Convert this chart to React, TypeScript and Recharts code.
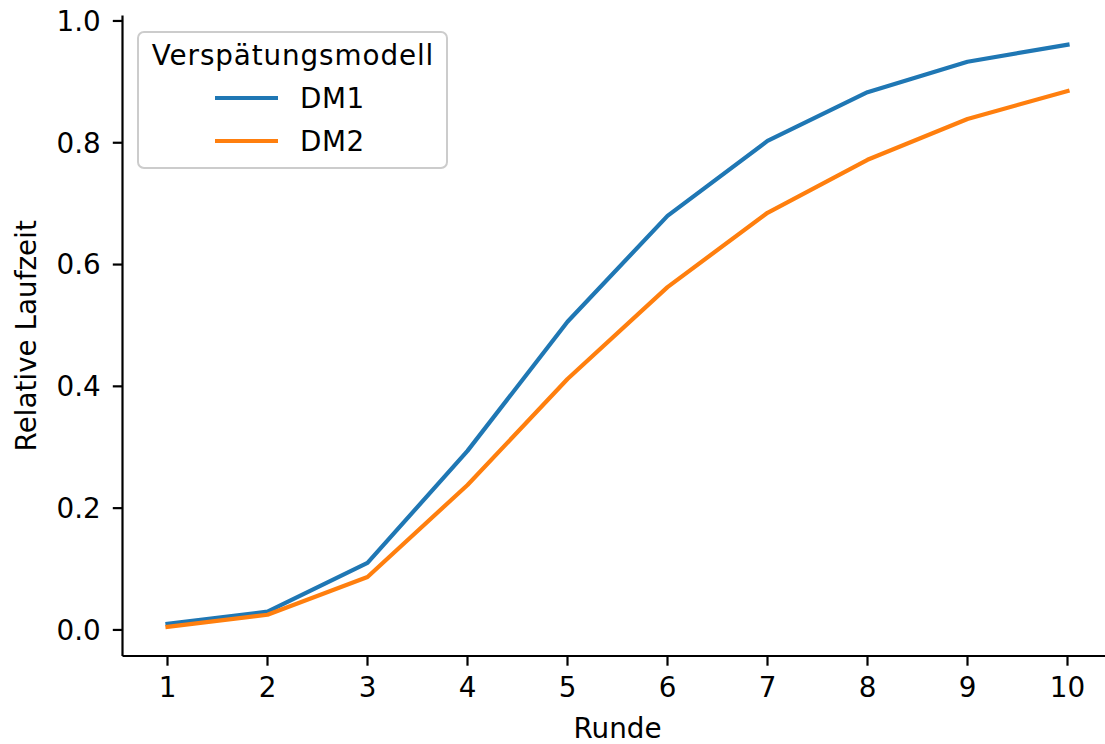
import React from 'react';
import { LineChart, Line, XAxis, YAxis, Legend } from 'recharts';

const rounds = [1, 2, 3, 4, 5, 6, 7, 8, 9, 10];
const dm1 = [0.010, 0.030, 0.110, 0.294, 0.506, 0.680, 0.803, 0.883, 0.933, 0.961];
const dm2 = [0.005, 0.025, 0.087, 0.238, 0.412, 0.563, 0.685, 0.772, 0.839, 0.885];
const xTicks = [1, 2, 3, 4, 5, 6, 7, 8, 9, 10];
const yTicks = [0, 0.2, 0.4, 0.6, 0.8, 1.0];
const seriesNames = ['DM1', 'DM2'];
const seriesColors = ['#1f77b4', '#ff7f0e'];
const legendTitle = 'Verspätungsmodell';
const xLabel = 'Runde';
const yLabel = 'Relative Laufzeit';

const data = rounds.map((r, i) => ({ r, DM1: dm1[i], DM2: dm2[i] }));

const FONT = 'DejaVu Sans';
const FS = 27.8;

const LegendBox = (props: any) => {
  const payload = (props.payload || []) as any[];
  return (
    <svg width={312} height={140} style={{ display: 'block', overflow: 'visible' }}>
      <rect x={1} y={1} width={309} height={136} rx={6} ry={6} fill="#ffffff" fillOpacity={0.8} stroke="#cccccc" strokeWidth={2} />
      <text x={156} y={34} textAnchor="middle" fontFamily={FONT} fontSize={FS} letterSpacing={0.9} fill="#000">{legendTitle}</text>
      {payload.map((p: any, i: number) => (
        <g key={i}>
          <line x1={78} x2={141} y1={67 + i * 43} y2={67 + i * 43} stroke={p.color} strokeWidth={4.2} />
          <text x={163} y={77 + i * 43} fontFamily={FONT} fontSize={FS} letterSpacing={0.5} fill="#000">{p.value}</text>
        </g>
      ))}
    </svg>
  );
};

export default function App() {
  return (
    <div style={{ position: 'absolute', left: 0, top: 0, width: 1105, height: 744, overflow: 'hidden', background: '#fff' }}>
      <LineChart
        width={1140}
        height={744}
        data={data}
        margin={{ top: 15.6, right: 27.5, left: 0, bottom: 0 }}
      >
        <XAxis
          dataKey="r"
          type="number"
          domain={[0.55, 10.45]}
          ticks={xTicks}
          allowDataOverflow
          height={88}
          axisLine={{ stroke: '#000', strokeWidth: 2.2 }}
          tickLine={{ stroke: '#000', strokeWidth: 2.2 }}
          tickSize={9.7}
          tickMargin={12}
          tick={{ fill: '#000', fontSize: FS, fontFamily: FONT }}
          interval={0}
          label={(p: any) => {
            const vb = p.viewBox || {};
            return (
              <text x={vb.x + vb.width / 2} y={737.5} textAnchor="middle" fontFamily={FONT} fontSize={FS} fill="#000">{xLabel}</text>
            );
          }}
        />
        <XAxis
          xAxisId="top"
          orientation="top"
          dataKey="r"
          type="number"
          domain={[0.55, 10.45]}
          height={0}
          tick={false}
          tickLine={false}
          axisLine={{ stroke: '#000', strokeWidth: 2.2 }}
        />
        <YAxis
          type="number"
          domain={[-0.0428, 1.0088]}
          ticks={yTicks}
          allowDataOverflow
          width={122.5}
          axisLine={{ stroke: '#000', strokeWidth: 2.2 }}
          tickLine={{ stroke: '#000', strokeWidth: 2.2 }}
          tickSize={9.7}
          tickMargin={12}
          tick={{ fill: '#000', fontSize: FS, fontFamily: FONT }}
          tickFormatter={(v: number) => v.toFixed(1)}
          interval={0}
          label={(p: any) => {
            const vb = p.viewBox || {};
            const cy = vb.y + vb.height / 2;
            return (
              <text x={36} y={cy} transform={`rotate(-90, 36, ${cy})`} textAnchor="middle" fontFamily={FONT} fontSize={FS} fill="#000">{yLabel}</text>
            );
          }}
        />
        <Legend
          layout="horizontal"
          verticalAlign="middle"
          align="center"
          content={<LegendBox />}
          wrapperStyle={{ position: 'absolute', left: 137, top: 31, width: 312, height: 140 }}
        />
        <Line type="linear" dataKey="DM1" name={seriesNames[0]} stroke={seriesColors[0]} strokeWidth={4.2} dot={false} isAnimationActive={false} strokeLinejoin="round" strokeLinecap="square" />
        <Line type="linear" dataKey="DM2" name={seriesNames[1]} stroke={seriesColors[1]} strokeWidth={4.2} dot={false} isAnimationActive={false} strokeLinejoin="round" strokeLinecap="square" />
      </LineChart>
    </div>
  );
}
